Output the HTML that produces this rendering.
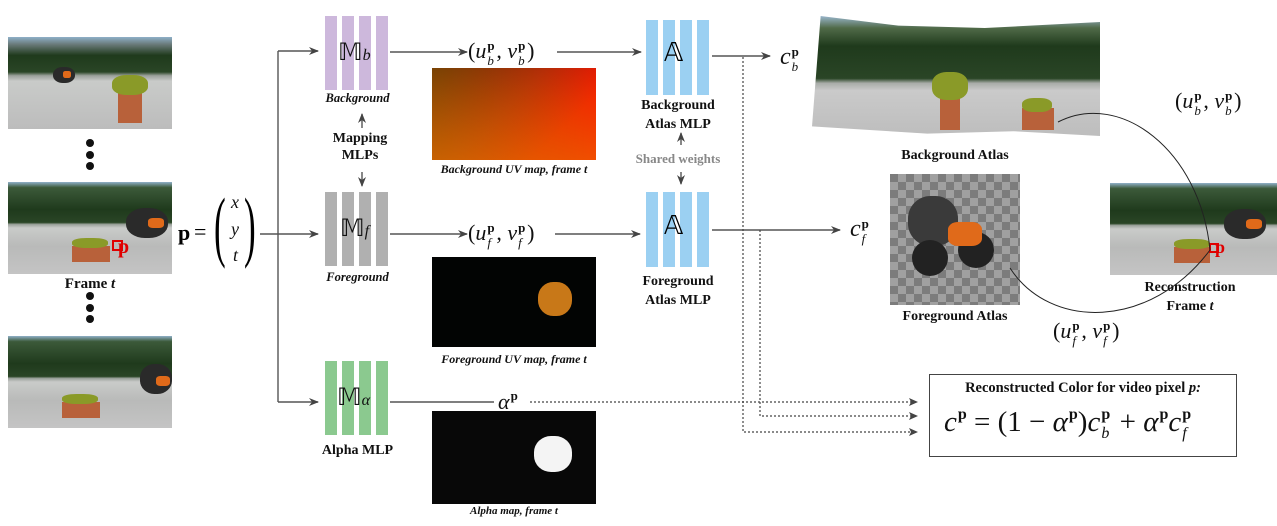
<!DOCTYPE html>
<html><head><meta charset="utf-8"><style>
body{margin:0;background:#fff;width:1277px;height:526px;position:relative;overflow:hidden;font-family:"Liberation Serif",serif;}
.a{position:absolute;}
.bar{position:absolute;width:12px;}
.lbl{position:absolute;font-weight:bold;font-size:14px;color:#111;text-align:center;white-space:nowrap;}
.it{font-style:italic;font-size:12.5px;}
.m{position:absolute;font-family:"Liberation Serif",serif;font-style:italic;font-size:22px;color:#111;white-space:nowrap;}
.frame{position:absolute;overflow:hidden;background:linear-gradient(#8fb0c8 0%,#3c5a3a 6%,#1f3a1c 30%,#2a4526 44%,#9aa09a 46%,#c9cbc9 50%,#b9bab9 70%,#c4c4c4 100%);}
.pot{position:absolute;background:#b8613a;}
.fl{position:absolute;background:#8a9a28;border-radius:40%;}
.bike{position:absolute;background:#2a2a2a;border-radius:45%;}
.or{position:absolute;background:#e06a1a;border-radius:30%;}
.ss{display:inline-block;position:relative;width:10px;height:0;font-size:13px;line-height:13px}
.ss b{position:absolute;left:1px;top:-19px;font-style:normal}
.ss i{position:absolute;left:1px;top:-4px}
.p{font-size:13px;font-weight:bold;font-style:normal;vertical-align:9px;margin-left:1px}
.big .ss{font-size:16px;line-height:16px;width:12px}
.big .ss b{top:-24px}
.big .ss i{top:-5px}
.big .p{font-size:16px;vertical-align:12px}
</style></head><body>

<!-- left frames -->
<div class="frame" style="left:8px;top:37px;width:164px;height:92px;background:linear-gradient(#8fb0c8 0%,#6a7a7a 8%,#1f3a1c 20%,#2a4526 38%,#9aa09a 42%,#c9cbc9 48%,#bcbcbc 100%)">
 <div class="pot" style="left:110px;top:56px;width:24px;height:30px"></div>
 <div class="fl" style="left:104px;top:38px;width:36px;height:20px"></div>
 <div class="bike" style="left:45px;top:30px;width:22px;height:16px"></div>
 <div class="or" style="left:55px;top:34px;width:8px;height:7px"></div>
</div>
<div class="frame" style="left:8px;top:182px;width:164px;height:92px">
 <div class="pot" style="left:64px;top:64px;width:38px;height:16px"></div>
 <div class="fl" style="left:64px;top:56px;width:36px;height:10px"></div>
 <div class="bike" style="left:118px;top:26px;width:42px;height:30px"></div>
 <div class="or" style="left:140px;top:36px;width:16px;height:10px"></div>
 <div class="a" style="left:104px;top:58px;width:7px;height:7px;border:2px solid #e00000"></div>
</div>
<div class="a" style="left:118px;top:236px;color:#e00000;font-weight:bold;font-size:20px">p</div>
<div class="frame" style="left:8px;top:336px;width:164px;height:92px">
 <div class="pot" style="left:54px;top:66px;width:38px;height:16px"></div>
 <div class="fl" style="left:54px;top:58px;width:36px;height:10px"></div>
 <div class="bike" style="left:132px;top:28px;width:32px;height:30px"></div>
 <div class="or" style="left:148px;top:40px;width:14px;height:10px"></div>
</div>
<div class="a" style="left:86px;top:139px;width:8px;height:8px;border-radius:50%;background:#111"></div>
<div class="a" style="left:86px;top:151px;width:8px;height:8px;border-radius:50%;background:#111"></div>
<div class="a" style="left:86px;top:162px;width:8px;height:8px;border-radius:50%;background:#111"></div>
<div class="a" style="left:86px;top:292px;width:8px;height:8px;border-radius:50%;background:#111"></div>
<div class="a" style="left:86px;top:304px;width:8px;height:8px;border-radius:50%;background:#111"></div>
<div class="a" style="left:86px;top:315px;width:8px;height:8px;border-radius:50%;background:#111"></div>
<div class="lbl" style="left:50px;top:276px;width:80px;font-size:15px">Frame <i>t</i></div>

<!-- p = (x y t) -->
<div class="a" style="left:178px;top:220px;font-weight:bold;font-size:22px">p</div>
<div class="a" style="left:194px;top:219px;font-size:22px">=</div>
<div class="a" style="left:214px;top:186px;font-size:78px;font-weight:100;transform:scaleX(0.45);transform-origin:left top;line-height:80px">(</div>
<div class="a" style="left:244px;top:186px;font-size:78px;font-weight:100;transform:scaleX(0.45);transform-origin:left top;line-height:80px">)</div>
<div class="m" style="left:231px;top:192px;font-size:18px">x</div>
<div class="m" style="left:231px;top:219px;font-size:18px">y</div>
<div class="m" style="left:233px;top:245px;font-size:18px">t</div>

<!-- MLP blocks -->
<div class="bar" style="left:325px;top:16px;height:74px;background:#cdb8dc"></div>
<div class="bar" style="left:342px;top:16px;height:74px;background:#cdb8dc"></div>
<div class="bar" style="left:359px;top:16px;height:74px;background:#cdb8dc"></div>
<div class="bar" style="left:376px;top:16px;height:74px;background:#cdb8dc"></div>
<div class="m" style="left:338px;top:38px;font-style:normal;font-size:24px">𝕄<i style="font-size:16px">b</i></div>
<div class="lbl it" style="left:310px;top:91px;width:95px">Background</div>
<div class="lbl" style="left:310px;top:130px;width:100px;line-height:17px">Mapping<br>MLPs</div>

<div class="bar" style="left:325px;top:192px;height:74px;background:#b0b0b0"></div>
<div class="bar" style="left:342px;top:192px;height:74px;background:#b0b0b0"></div>
<div class="bar" style="left:359px;top:192px;height:74px;background:#b0b0b0"></div>
<div class="bar" style="left:376px;top:192px;height:74px;background:#b0b0b0"></div>
<div class="m" style="left:340px;top:214px;font-style:normal;font-size:24px">𝕄<i style="font-size:16px">f</i></div>
<div class="lbl it" style="left:310px;top:270px;width:95px">Foreground</div>

<div class="bar" style="left:325px;top:361px;height:74px;background:#8bc98f"></div>
<div class="bar" style="left:342px;top:361px;height:74px;background:#8bc98f"></div>
<div class="bar" style="left:359px;top:361px;height:74px;background:#8bc98f"></div>
<div class="bar" style="left:376px;top:361px;height:74px;background:#8bc98f"></div>
<div class="m" style="left:337px;top:383px;font-style:normal;font-size:24px">𝕄<i style="font-size:16px">α</i></div>
<div class="lbl" style="left:310px;top:443px;width:95px">Alpha MLP</div>

<!-- UV maps -->
<div class="a" style="left:432px;top:68px;width:164px;height:92px;background:linear-gradient(135deg,#7a1808 0%,#c02008 45%,#f21a00 75%),#000"></div>
<div class="a" style="left:432px;top:68px;width:164px;height:92px;background:linear-gradient(to bottom,rgba(0,0,0,0),rgba(240,120,0,0.55)),linear-gradient(to right,rgba(120,110,0,0.5),rgba(0,0,0,0))"></div>
<div class="lbl it" style="left:414px;top:162px;width:200px;font-size:12px">Background UV map, frame t</div>

<div class="a" style="left:432px;top:257px;width:164px;height:90px;background:#020403"></div>
<div class="a" style="left:538px;top:282px;width:34px;height:34px;border-radius:45%;background:#c87818"></div>
<div class="lbl it" style="left:414px;top:352px;width:200px;font-size:12px">Foreground UV map, frame t</div>

<div class="a" style="left:432px;top:411px;width:164px;height:93px;background:#080808"></div>
<div class="a" style="left:534px;top:436px;width:38px;height:36px;border-radius:45%;background:#f4f4f4"></div>
<div class="lbl it" style="left:414px;top:505px;width:200px;font-size:11px">Alpha map, frame t</div>

<!-- math labels -->
<div class="m" style="left:468px;top:38px;font-style:normal">(<i>u</i><span class="ss"><b>p</b><i>b</i></span>, <i>v</i><span class="ss"><b>p</b><i>b</i></span>)</div>
<div class="m" style="left:468px;top:220px;font-style:normal">(<i>u</i><span class="ss"><b>p</b><i>f</i></span>, <i>v</i><span class="ss"><b>p</b><i>f</i></span>)</div>
<div class="m" style="left:498px;top:388px"><span>α</span><span class="p">p</span></div>
<div class="m" style="left:780px;top:44px;font-size:24px">c<span class="ss"><b>p</b><i>b</i></span></div>
<div class="m" style="left:850px;top:216px;font-size:24px">c<span class="ss"><b>p</b><i>f</i></span></div>

<!-- atlas MLPs -->
<div class="bar" style="left:646px;top:20px;height:75px;background:#9bd0f2"></div>
<div class="bar" style="left:663px;top:20px;height:75px;background:#9bd0f2"></div>
<div class="bar" style="left:680px;top:20px;height:75px;background:#9bd0f2"></div>
<div class="bar" style="left:697px;top:20px;height:75px;background:#9bd0f2"></div>
<div class="a" style="left:664px;top:38px;font-size:26px">𝔸</div>
<div class="lbl" style="left:628px;top:96px;width:100px;line-height:19px">Background<br>Atlas MLP</div>
<div class="lbl" style="left:620px;top:151px;width:116px;color:#888;font-size:13px">Shared weights</div>
<div class="bar" style="left:646px;top:192px;height:75px;background:#9bd0f2"></div>
<div class="bar" style="left:663px;top:192px;height:75px;background:#9bd0f2"></div>
<div class="bar" style="left:680px;top:192px;height:75px;background:#9bd0f2"></div>
<div class="bar" style="left:697px;top:192px;height:75px;background:#9bd0f2"></div>
<div class="a" style="left:664px;top:211px;font-size:26px">𝔸</div>
<div class="lbl" style="left:628px;top:272px;width:100px;line-height:19px">Foreground<br>Atlas MLP</div>

<!-- atlases -->
<div class="a" style="left:812px;top:16px;width:288px;height:120px;clip-path:polygon(3% 0,30% 8%,60% 10%,100% 5%,100% 100%,70% 96%,40% 98%,0 92%);background:linear-gradient(#9ab6cc 0%,#506a48 10%,#1f3a1c 25%,#2a4526 52%,#a8aca8 56%,#cacaca 62%,#bdbdbd 100%)">
 <div class="pot" style="left:128px;top:78px;width:20px;height:36px"></div>
 <div class="fl" style="left:120px;top:56px;width:36px;height:28px"></div>
 <div class="pot" style="left:210px;top:92px;width:32px;height:22px"></div>
 <div class="fl" style="left:210px;top:82px;width:30px;height:14px"></div>
</div>
<div class="lbl" style="left:880px;top:148px;width:150px">Background Atlas</div>
<div class="a" style="left:890px;top:174px;width:130px;height:131px;background-color:#8a8a8a;background-image:conic-gradient(#a0a0a0 25%,#7c7c7c 0 50%,#a0a0a0 0 75%,#7c7c7c 0);background-size:16px 16px"></div>
<div class="bike" style="left:908px;top:196px;width:50px;height:50px;background:#3a3a3a"></div>
<div class="bike" style="left:912px;top:240px;width:36px;height:36px;background:#222;border-radius:50%"></div>
<div class="bike" style="left:958px;top:232px;width:36px;height:36px;background:#222;border-radius:50%"></div>
<div class="or" style="left:948px;top:222px;width:34px;height:24px"></div>
<div class="lbl" style="left:880px;top:309px;width:150px">Foreground Atlas</div>

<div class="frame" style="left:1110px;top:183px;width:167px;height:92px">
 <div class="pot" style="left:64px;top:64px;width:36px;height:16px"></div>
 <div class="fl" style="left:64px;top:56px;width:36px;height:10px"></div>
 <div class="bike" style="left:114px;top:26px;width:42px;height:30px"></div>
 <div class="or" style="left:136px;top:36px;width:16px;height:10px"></div>
 <div class="a" style="left:99px;top:60px;width:6px;height:6px;border:2px solid #e00000"></div>
</div>
<div class="a" style="left:1215px;top:237px;color:#e00000;font-weight:bold;font-size:18px">p</div>
<div class="lbl" style="left:1120px;top:278px;width:140px;line-height:19px">Reconstruction<br>Frame <i>t</i></div>

<div class="m" style="left:1175px;top:88px;font-style:normal">(<i>u</i><span class="ss"><b>p</b><i>b</i></span>, <i>v</i><span class="ss"><b>p</b><i>b</i></span>)</div>
<div class="m" style="left:1053px;top:318px;font-style:normal">(<i>u</i><span class="ss"><b>p</b><i>f</i></span>, <i>v</i><span class="ss"><b>p</b><i>f</i></span>)</div>

<!-- formula box -->
<div class="a" style="left:929px;top:374px;width:308px;height:83px;border:1.5px solid #444;box-sizing:border-box"></div>
<div class="lbl" style="left:930px;top:380px;width:306px;font-size:14.5px">Reconstructed Color for video pixel <i>p:</i></div>
<div class="m big" style="left:944px;top:406px;font-style:normal;font-size:29px"><i>c</i><span class="p">p</span> = (1 − <i>α</i><span class="p">p</span>)<i>c</i><span class="ss"><b>p</b><i>b</i></span> + <i>α</i><span class="p">p</span><i>c</i><span class="ss"><b>p</b><i>f</i></span></div>

<svg class="a" style="left:0;top:0" width="1277" height="526">
<defs><marker id="ar" markerWidth="10" markerHeight="8" refX="9" refY="4" orient="auto" markerUnits="userSpaceOnUse"><path d="M0,0 L10,4 L0,8 L3,4 z" fill="#444"/></marker></defs>
<g stroke="#555" stroke-width="1.4" fill="none">
<path d="M260,234 H278"/>
<path d="M278,51 V402"/>
<path d="M278,51 H318" marker-end="url(#ar)"/>
<path d="M278,234 H318" marker-end="url(#ar)"/>
<path d="M278,402 H318" marker-end="url(#ar)"/>
<path d="M390,52 H467" marker-end="url(#ar)"/>
<path d="M557,52 H641" marker-end="url(#ar)"/>
<path d="M390,234 H467" marker-end="url(#ar)"/>
<path d="M555,234 H640" marker-end="url(#ar)"/>
<path d="M390,402 H494"/>
<path d="M712,56 H770" marker-end="url(#ar)"/>
<path d="M712,230 H840" marker-end="url(#ar)"/>
<path d="M362,128 V114" marker-end="url(#ar)"/>
<path d="M362,172 V186" marker-end="url(#ar)"/>
<path d="M681,145 V133" marker-end="url(#ar)"/>
<path d="M681,172 V184" marker-end="url(#ar)"/>
</g>
<g stroke="#444" stroke-width="1.2" fill="none" stroke-dasharray="2,2">
<path d="M530,402 H915"/>
<path d="M743,57 V432 H915"/>
<path d="M760,230 V416 H915"/>
</g>
<g fill="#444"><path d="M918,402 l-9,-4 2,4 -2,4z"/><path d="M918,416 l-9,-4 2,4 -2,4z"/><path d="M918,432 l-9,-4 2,4 -2,4z"/></g>
<g stroke="#222" stroke-width="1" fill="none">
<path d="M1058,122 C1120,90 1200,150 1210,250"/>
<path d="M1010,268 C1050,330 1150,330 1210,250"/>
</g>
</svg>
</body></html>
